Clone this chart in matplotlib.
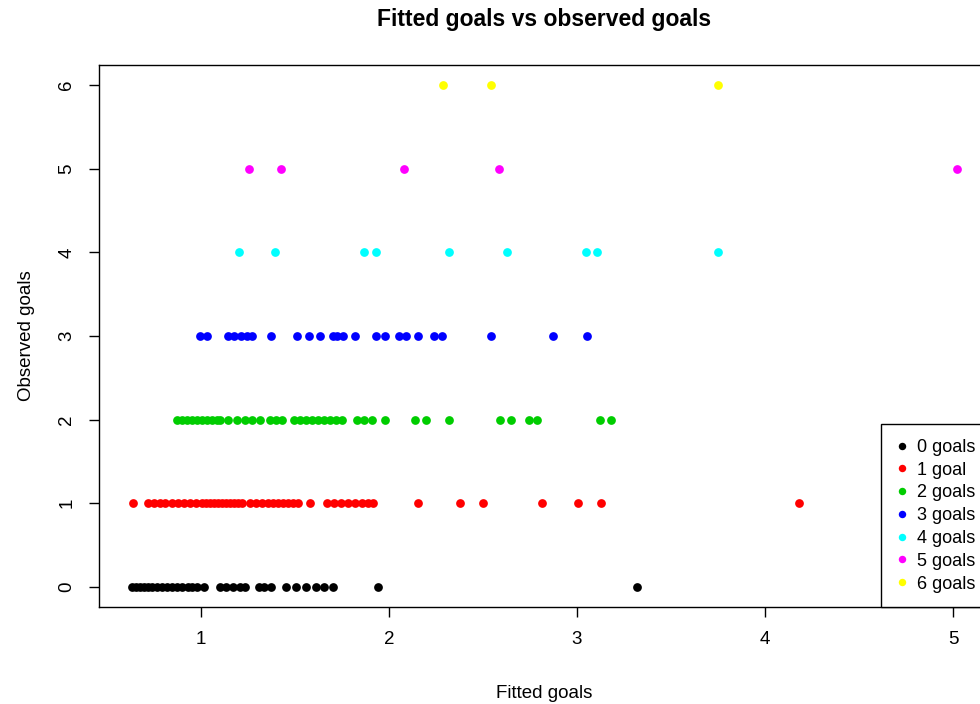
import matplotlib
matplotlib.use('Agg')
import matplotlib.pyplot as plt

plt.rcParams['font.family'] = ['Liberation Sans', 'DejaVu Sans']

# fitted goals for each observed-goal row
fit_0 = [0.633, 0.654, 0.676, 0.697, 0.718, 0.739, 0.766, 0.793, 0.819, 0.846, 0.872, 0.899,
         0.931, 0.952, 0.979, 1.016, 1.101, 1.133, 1.170, 1.207, 1.234, 1.309, 1.335, 1.372,
         1.452, 1.505, 1.559, 1.612, 1.654, 1.702, 1.941, 3.319]
fit_1 = [0.638, 0.718, 0.750, 0.782, 0.809, 0.846, 0.878, 0.910, 0.941, 0.973, 1.005, 1.027,
         1.048, 1.069, 1.090, 1.112, 1.133, 1.154, 1.176, 1.197, 1.218, 1.261, 1.293, 1.324,
         1.356, 1.383, 1.410, 1.436, 1.463, 1.489, 1.516, 1.580, 1.670, 1.707, 1.745, 1.782,
         1.819, 1.856, 1.888, 1.915, 2.154, 2.378, 2.500, 2.814, 3.005, 3.128, 4.181]
fit_2 = [0.872, 0.899, 0.926, 0.952, 0.979, 1.005, 1.032, 1.059, 1.085, 1.101, 1.144, 1.191,
         1.234, 1.271, 1.314, 1.367, 1.399, 1.431, 1.495, 1.527, 1.559, 1.590, 1.622, 1.654,
         1.686, 1.718, 1.750, 1.830, 1.867, 1.910, 1.979, 2.138, 2.197, 2.319, 2.590, 2.649,
         2.745, 2.787, 3.122, 3.181]
fit_3 = [0.995, 1.032, 1.144, 1.176, 1.213, 1.245, 1.271, 1.372, 1.511, 1.574, 1.633, 1.702,
         1.723, 1.755, 1.819, 1.931, 1.979, 2.053, 2.090, 2.154, 2.239, 2.282, 2.543, 2.872,
         3.053]
fit_4 = [1.202, 1.396, 1.867, 1.931, 2.319, 2.628, 3.048, 3.106, 3.750]
fit_5 = [1.255, 1.426, 2.080, 2.585, 5.021]
fit_6 = [2.287, 2.543, 3.750]

fitted = [fit_0, fit_1, fit_2, fit_3, fit_4, fit_5, fit_6]
labels = ["0 goals", "1 goal", "2 goals", "3 goals", "4 goals", "5 goals", "6 goals"]
colors = ["#000000", "#FF0000", "#00CD00", "#0000FF", "#00FFFF", "#FF00FF", "#FFFF00"]

fig = plt.figure(figsize=(9.8, 7.04), dpi=100)
ax = fig.add_axes([99/980, 1-607/704, 891/980, 542/704])

for goals, (xs, c, lab) in enumerate(zip(fitted, colors, labels)):
    ax.plot(xs, [goals]*len(xs), 'o', color=c, markersize=6.3, markeredgewidth=0, label=lab)

allx = [v for xs in fitted for v in xs]
lo, hi = min(allx), max(allx)
pad = (hi - lo) * 0.04
ax.set_xlim(lo - pad, hi + pad)
ax.set_ylim(-0.24, 6.24)
ax.set_xticks([1, 2, 3, 4, 5])
ax.set_yticks(range(7))
ax.tick_params(direction='out', length=7, width=1, labelsize=13.5)
ax.tick_params(axis='x', pad=10)
ax.tick_params(axis='y', pad=10)
for t in ax.get_yticklabels():
    t.set_rotation(90)
    t.set_va('center')
for s in ax.spines.values():
    s.set_linewidth(1)

ax.set_xlabel("Fitted goals", fontsize=13.5, labelpad=27)
ax.set_ylabel("Observed goals", fontsize=13.5, labelpad=17)
ax.set_title("Fitted goals vs observed goals", fontsize=16.5, fontweight='bold', pad=28)

leg = ax.legend(loc='lower right', borderaxespad=0, fancybox=False, edgecolor='black',
                fontsize=13, handlelength=0.7, handletextpad=0.5, labelspacing=0.32,
                borderpad=0.8, markerscale=0.85, framealpha=1)
leg.get_frame().set_linewidth(1)

fig.savefig("out.png", dpi=100, facecolor='white')
